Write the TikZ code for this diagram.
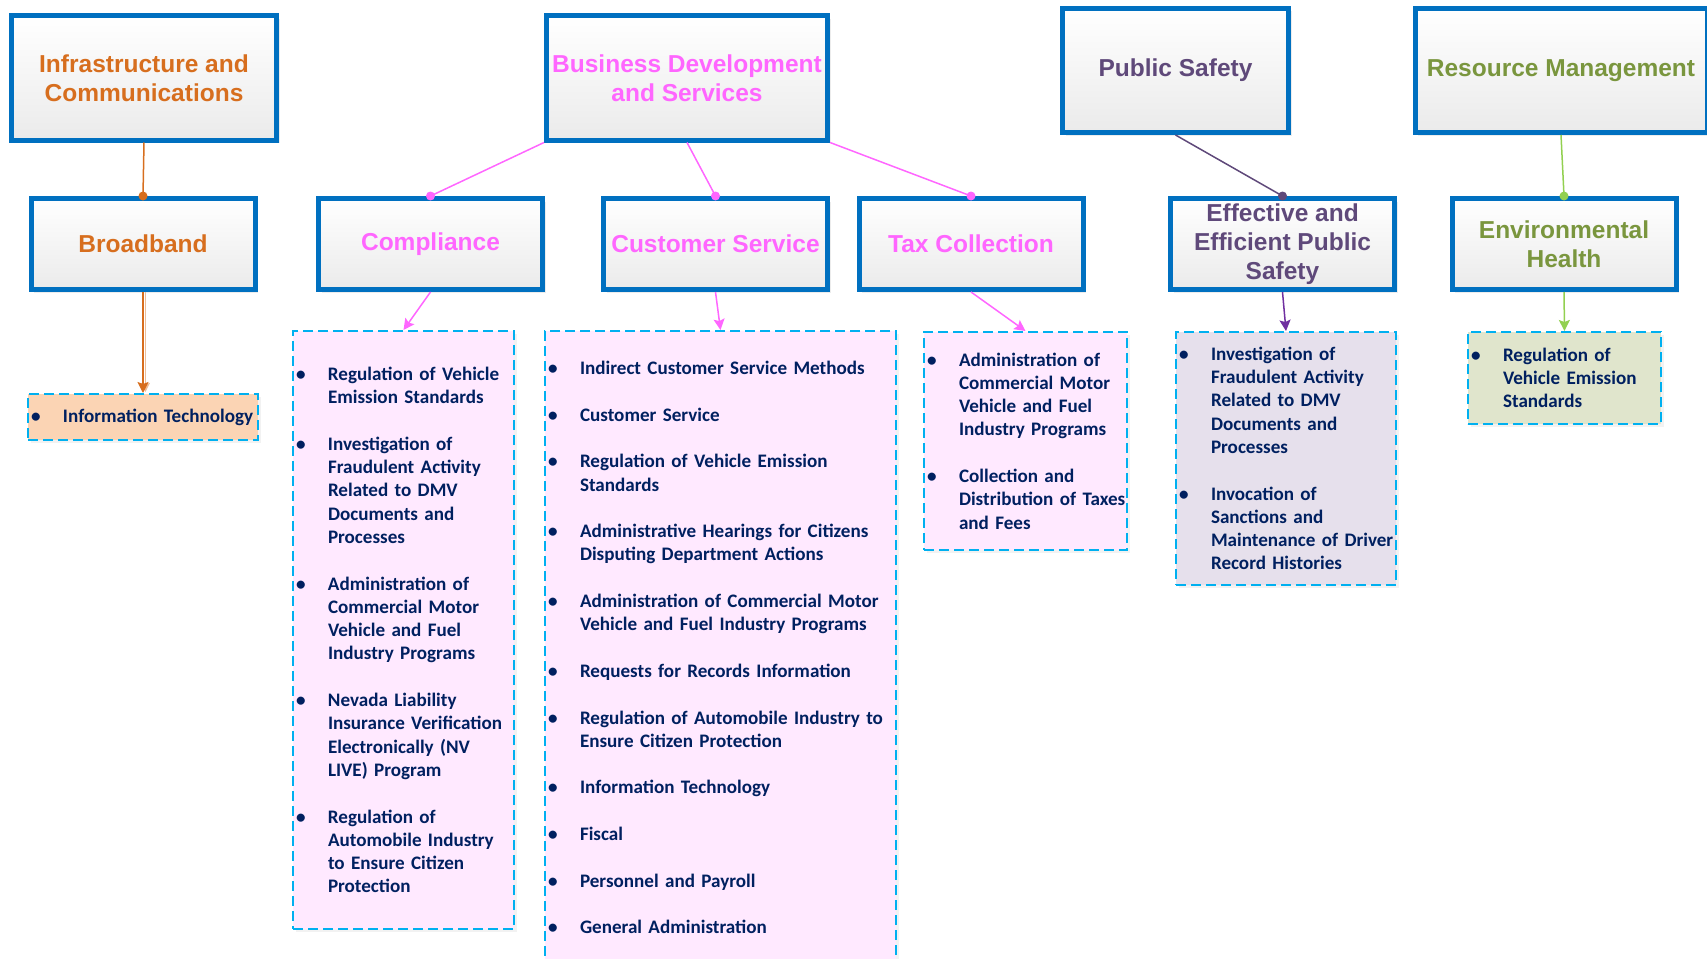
\documentclass[tikz,border=0pt]{standalone}
\usepackage{fontspec}
\setmainfont{Liberation Sans}
\newfontfamily\listfont{Carlito}
\usetikzlibrary{arrows.meta,shadows}

\definecolor{boxblue}{RGB}{0,112,192}
\definecolor{dashblue}{RGB}{0,176,240}
\definecolor{infraorange}{RGB}{215,110,30}
\definecolor{bizpink}{RGB}{255,102,255}
\definecolor{safepurple}{RGB}{95,73,122}
\definecolor{arrowpurple}{RGB}{112,48,160}
\definecolor{resgreen}{RGB}{122,150,62}
\definecolor{linegreen}{RGB}{146,208,80}
\definecolor{listnavy}{RGB}{0,32,96}
\definecolor{fillpeach}{RGB}{251,212,180}
\definecolor{fillpink}{RGB}{255,233,255}
\definecolor{filllilac}{RGB}{230,224,236}
\definecolor{fillsage}{RGB}{224,229,204}

% bullet lines for the dashed lists
\newlength{\bulw}
\setlength{\bulw}{32pt}
\newcommand{\bul}[1]{\makebox[\bulw][l]{\textbullet}\mbox{#1}}
\newcommand{\cnt}[1]{\hspace*{\bulw}\mbox{#1}}
\newcommand{\skipitem}{\\[23.3pt]}

\tikzset{
  headbox/.style={draw=boxblue, line width=5pt, top color=white, bottom color=black!8,
    drop shadow={shadow xshift=3pt, shadow yshift=-3pt, fill=black!15},
    font=\fontsize{24.5}{29}\selectfont\bfseries, align=center, inner sep=0pt},
  toprow/.style={headbox, minimum height=124pt},
  subrow/.style={headbox, minimum width=224pt, minimum height=91pt},
  listbox/.style={draw=dashblue, line width=2pt, dash pattern=on 10pt off 5pt,
    drop shadow={shadow xshift=3pt, shadow yshift=-3pt, fill=black!10},
    text=listnavy, font=\listfont\bfseries\fontsize{19.1}{23.3}\selectfont,
    align=left, inner xsep=3pt, inner ysep=0pt},
  link/.style={line width=1.5pt},
  arr/.style={line width=1.5pt, -{Stealth[length=11pt, width=11pt, inset=2pt]}}
}

\begin{document}
\begin{tikzpicture}[x=1pt, y=-1pt]
\useasboundingbox (0,0) rectangle (1707,958);

% top level
\node[toprow, minimum width=265pt, text=infraorange] (infra) at (144,78) {Infrastructure and\\Communications};
\node[toprow, minimum width=281pt, text=bizpink] (busdev) at (687,78) {Business Development\\and Services};
\node[toprow, minimum width=226pt, text=safepurple] (pubsafe) at (1175.5,70.5) {Public Safety};
\node[toprow, minimum width=292pt, text=resgreen] (resmgmt) at (1561,70.5) {Resource Management};

% second level
\node[subrow, text=infraorange] (bband) at (143,244) {Broadband};
\node[subrow, text=bizpink] (compl) at (430.5,244) {Compliance};
\node[subrow, text=bizpink] (custsvc) at (715.5,244) {Customer Service};
\node[subrow, text=bizpink] (taxcoll) at (971,244) {Tax Collection};
\node[subrow, text=safepurple] (effsafe) at (1282.5,244) {Effective and\\Efficient Public\\Safety};
\node[subrow, text=resgreen] (envhealth) at (1564,244) {Environmental\\Health};

% activity lists
\node[listbox, fill=fillpeach, minimum width=230pt, minimum height=46pt, text width=224pt] (itlist) at (143,417)
  {\bul{Information Technology}};
\node[listbox, fill=fillpink, minimum width=221pt, minimum height=598pt, text width=215pt] (cmpllist) at (403.5,630)
  {\bul{Regulation of Vehicle}\\ \cnt{Emission Standards}\skipitem
   \bul{Investigation of}\\ \cnt{Fraudulent Activity}\\ \cnt{Related to DMV}\\ \cnt{Documents and}\\ \cnt{Processes}\skipitem
   \bul{Administration of}\\ \cnt{Commercial Motor}\\ \cnt{Vehicle and Fuel}\\ \cnt{Industry Programs}\skipitem
   \bul{Nevada Liability}\\ \cnt{Insurance Verification}\\ \cnt{Electronically (NV}\\ \cnt{LIVE) Program}\skipitem
   \bul{Regulation of}\\ \cnt{Automobile Industry}\\ \cnt{to Ensure Citizen}\\ \cnt{Protection}};
\node[listbox, fill=fillpink, minimum width=351pt, minimum height=633pt, text width=345pt] (cslist) at (720.5,647.5)
  {\bul{Indirect Customer Service Methods}\skipitem
   \bul{Customer Service}\skipitem
   \bul{Regulation of Vehicle Emission}\\ \cnt{Standards}\skipitem
   \bul{Administrative Hearings for Citizens}\\ \cnt{Disputing Department Actions}\skipitem
   \bul{Administration of Commercial Motor}\\ \cnt{Vehicle and Fuel Industry Programs}\skipitem
   \bul{Requests for Records Information}\skipitem
   \bul{Regulation of Automobile Industry to}\\ \cnt{Ensure Citizen Protection}\skipitem
   \bul{Information Technology}\skipitem
   \bul{Fiscal}\skipitem
   \bul{Personnel and Payroll}\skipitem
   \bul{General Administration}};
\node[listbox, fill=fillpink, minimum width=203pt, minimum height=218pt, text width=197pt] (taxlist) at (1025.5,441)
  {\bul{Administration of}\\ \cnt{Commercial Motor}\\ \cnt{Vehicle and Fuel}\\ \cnt{Industry Programs}\skipitem
   \bul{Collection and}\\ \cnt{Distribution of Taxes}\\ \cnt{and Fees}};
\node[listbox, fill=filllilac, minimum width=220pt, minimum height=253pt, text width=214pt] (efflist) at (1286,458.5)
  {\bul{Investigation of}\\ \cnt{Fraudulent Activity}\\ \cnt{Related to DMV}\\ \cnt{Documents and}\\ \cnt{Processes}\skipitem
   \bul{Invocation of}\\ \cnt{Sanctions and}\\ \cnt{Maintenance of Driver}\\ \cnt{Record Histories}};
\node[listbox, fill=fillsage, minimum width=193pt, minimum height=92pt, text width=187pt] (envlist) at (1564.5,378)
  {\bul{Regulation of}\\ \cnt{Vehicle Emission}\\ \cnt{Standards}};

% links between levels
\draw[link, infraorange] (infra.south) -- (bband.north);
\fill[infraorange] (bband.north) circle (4.5pt);
\draw[link, bizpink] (busdev.south west) -- (compl.north);
\draw[link, bizpink] (busdev.south) -- (custsvc.north);
\draw[link, bizpink] (busdev.south east) -- (taxcoll.north);
\fill[bizpink] (compl.north) circle (4.5pt);
\fill[bizpink] (custsvc.north) circle (4.5pt);
\fill[bizpink] (taxcoll.north) circle (4.5pt);
\draw[link, safepurple] (pubsafe.south) -- (effsafe.north);
\fill[safepurple] (effsafe.north) circle (4.5pt);
\draw[link, linegreen] (resmgmt.south) -- (envhealth.north);
\fill[linegreen] (envhealth.north) circle (4.5pt);

% arrows down to the lists
\draw[arr, infraorange, preaction={draw=infraorange!45, transform canvas={xshift=2.5pt}}] (bband.south) -- (itlist.north);
\draw[arr, bizpink] (compl.south) -- (cmpllist.north);
\draw[arr, bizpink] (custsvc.south) -- (cslist.north);
\draw[arr, bizpink] (taxcoll.south) -- (taxlist.north);
\draw[arr, arrowpurple] (effsafe.south) -- (efflist.north);
\draw[arr, linegreen] (envhealth.south) -- (envlist.north);
\end{tikzpicture}
\end{document}
